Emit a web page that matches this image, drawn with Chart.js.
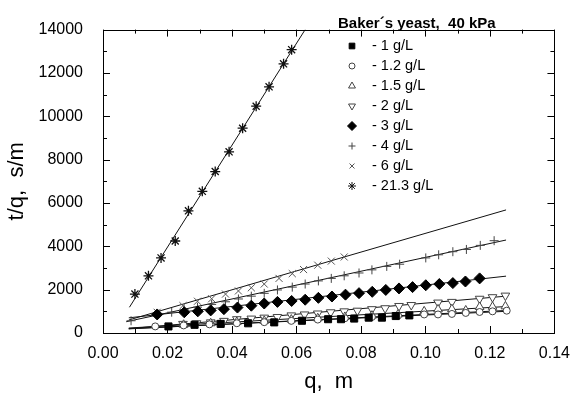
<!DOCTYPE html>
<html>
<head>
<meta charset="utf-8">
<script src="https://cdn.jsdelivr.net/npm/chart.js@4.4.0/dist/chart.umd.min.js"></script>
<style>
  html, body { margin: 0; padding: 0; background: #fff; }
</style>
</head>
<body>
<canvas id="chart" width="581" height="398"></canvas>
<script>
// Popisky a osy
const legendTitle = 'Baker\u00b4s yeast,  40 kPa';
const seriesNames = ['- 1 g/L', '- 1.2 g/L', '- 1.5 g/L', '- 2 g/L', '- 3 g/L', '- 4 g/L', '- 6 g/L', '- 21.3 g/L'];
const xTicks = [0, 0.02, 0.04, 0.06, 0.08, 0.10, 0.12, 0.14];
const yTicks = [0, 2000, 4000, 6000, 8000, 10000, 12000, 14000];

// Naměřené body (q v m, t/q v s/m)
const q1 = [0.0203, 0.0284, 0.0365, 0.045, 0.0531, 0.0617, 0.0698, 0.0738, 0.0779, 0.0824, 0.0865, 0.0908, 0.095];
const v1 = [304, 378, 420, 448, 491, 565, 637, 637, 665, 709, 709, 783, 813];

const q12 = [0.0162, 0.025, 0.033, 0.0415, 0.05, 0.0584, 0.0666, 0.075, 0.0834, 0.0915, 0.0996, 0.1039, 0.1082, 0.1125, 0.1168, 0.1208, 0.1252];
const v12 = [304, 350, 400, 450, 500, 560, 620, 680, 740, 800, 856, 856, 880, 926, 970, 1000, 1030];

const q15 = [0.025, 0.0334, 0.0415, 0.05, 0.0584, 0.0666, 0.075, 0.0834, 0.0915, 0.0996, 0.1039, 0.1082, 0.1125, 0.1168, 0.1208, 0.1248];
const v15 = [380, 450, 510, 560, 620, 680, 740, 800, 860, 1000, 1090, 1100, 1040, 1200, 1210, 1230];

const q2 = [0.0248, 0.029, 0.0334, 0.0375, 0.0415, 0.046, 0.05, 0.0541, 0.0584, 0.0625, 0.0666, 0.0706, 0.0748, 0.0789, 0.0834, 0.0875, 0.0918, 0.0956, 0.1039, 0.1082, 0.1168, 0.1208, 0.1248];
const v2 = [420, 450, 491, 560, 637, 665, 709, 739, 813, 856, 900, 956, 1000, 1030, 1100, 1143, 1247, 1290, 1404, 1435, 1580, 1652, 1725];

const q3 = [0.0168, 0.0252, 0.0294, 0.0334, 0.0375, 0.0417, 0.046, 0.05, 0.0541, 0.0585, 0.0627, 0.0668, 0.071, 0.0752, 0.0794, 0.0835, 0.0877, 0.0918, 0.096, 0.1001, 0.1043, 0.1085, 0.1124, 0.1168];
const v3 = [856, 956, 1000, 1043, 1100, 1174, 1260, 1361, 1435, 1478, 1535, 1622, 1683, 1770, 1839, 1900, 1987, 2057, 2117, 2204, 2260, 2304, 2377, 2520];

const q4 = [0.0087, 0.0168, 0.0213, 0.0252, 0.0293, 0.0337, 0.038, 0.042, 0.046, 0.05, 0.0541, 0.0587, 0.0627, 0.0668, 0.0708, 0.0748, 0.0794, 0.0834, 0.088, 0.092, 0.1001, 0.1041, 0.1085, 0.1127, 0.117, 0.1213];
const v4 = [565, 856, 960, 1070, 1190, 1320, 1440, 1570, 1700, 1830, 1987, 2117, 2260, 2404, 2520, 2639, 2770, 2913, 3074, 3174, 3465, 3609, 3752, 3855, 4043, 4260];

const q6 = [0.0168, 0.0248, 0.0293, 0.0337, 0.038, 0.042, 0.046, 0.05, 0.0546, 0.0587, 0.0622, 0.0666, 0.0708, 0.0748];
const v6 = [956, 1260, 1465, 1580, 1796, 1940, 2087, 2260, 2520, 2740, 2928, 3130, 3318, 3508];

const q213 = [0.0099, 0.0141, 0.018, 0.0224, 0.0265, 0.0308, 0.0348, 0.0391, 0.0433, 0.0475, 0.0515, 0.056, 0.0585];
const v213 = [1797, 2637, 3464, 4246, 5638, 6536, 7450, 8360, 9450, 10465, 11360, 12420, 13074];

// Proložené čáry
const fitQ1 = [0.008, 0.125], fitV1 = [200, 1000];
const fitQ12 = [0.008, 0.125], fitV12 = [190, 1040];
const fitQ15 = [0.008, 0.125], fitV15 = [230, 1220];
const fitQ2 = [0.008, 0.125], fitV2 = [200, 1700];
const fitQ3 = [0.008, 0.125], fitV3 = [700, 2623];
const fitQ4 = [0.0072, 0.125], fitV4 = [520, 4290];
const fitQ6 = [0.008, 0.0748, 0.125], fitV6 = [600, 3508, 5680];
const fitQ213 = [0.0082, 0.0627], fitV213 = [1188, 14000];

const pts = (q, v) => q.map((x, i) => ({ x, y: v[i] }));

const FONT = '"Liberation Sans", Arial, sans-serif';
const INK = '#444';

// Styly značek: [pointStyle, rotace, výplň, obrys, poloměr v grafu, poloměr v legendě, tloušťka]
const markers = [
    ['rect', 0, '#000', '#000', 5, 4, 1],
    ['circle', 0, '#fff', INK, 3.5, 3, 1],
    ['triangle', 0, '#fff', INK, 5, 4, 1],
    ['triangle', 180, '#fff', INK, 5, 4, 1],
    ['rectRot', 0, '#000', '#000', 5.5, 4.5, 1],
    ['cross', 0, '#fff', INK, 4.5, 3.5, 1],
    ['crossRot', 0, '#fff', '#555', 5, 3.5, 1],
    ['star', 0, '#fff', '#111', 5, 4, 1.3]
];

const measured = [[q1, v1], [q12, v12], [q15, v15], [q2, v2], [q3, v3], [q4, v4], [q6, v6], [q213, v213]];
const fits = [[fitQ1, fitV1], [fitQ12, fitV12], [fitQ15, fitV15], [fitQ2, fitV2], [fitQ3, fitV3], [fitQ4, fitV4], [fitQ6, fitV6], [fitQ213, fitV213]];

const datasets = [];
fits.forEach(([q, v]) => {
    datasets.push({
        data: pts(q, v), showLine: true, borderColor: '#111', borderWidth: 1,
        pointRadius: 0, fill: false, order: 2
    });
});
measured.forEach(([q, v], i) => {
    const m = markers[i];
    datasets.push({
        label: seriesNames[i], data: pts(q, v), showLine: false,
        pointStyle: m[0], rotation: m[1], backgroundColor: m[2], borderColor: m[3],
        pointBorderWidth: m[6], pointRadius: m[4], order: 1
    });
});

// Rámeček a dovnitř směřující značky os na všech stranách
const frameTicks = {
    id: 'frameTicks',
    afterDraw(chart) {
        const { ctx, chartArea: a, scales: { x, y } } = chart;
        const px = v => Math.round(x.getPixelForValue(v)) + 0.5;
        const py = v => Math.round(y.getPixelForValue(v)) + 0.5;
        const mids = t => t.slice(1).map((v, i) => (v + t[i]) / 2);
        ctx.save();
        ctx.strokeStyle = '#000';
        ctx.lineWidth = 1;
        ctx.strokeRect(Math.round(a.left) + 0.5, Math.round(a.top) + 0.5, Math.round(a.right - a.left), Math.round(a.bottom - a.top));
        ctx.beginPath();
        const tickX = (v, len) => {
            const p = px(v);
            ctx.moveTo(p, a.bottom); ctx.lineTo(p, a.bottom - len);
            ctx.moveTo(p, a.top); ctx.lineTo(p, a.top + len);
        };
        const tickY = (v, len) => {
            const p = py(v);
            ctx.moveTo(a.left, p); ctx.lineTo(a.left + len, p);
            ctx.moveTo(a.right, p); ctx.lineTo(a.right - len, p);
        };
        xTicks.forEach(v => tickX(v, 7));
        mids(xTicks).forEach(v => tickX(v, 4));
        yTicks.forEach(v => tickY(v, 7));
        mids(yTicks).forEach(v => tickY(v, 4));
        ctx.stroke();
        ctx.restore();
    }
};

// Legenda uvnitř grafu
const insideLegend = {
    id: 'insideLegend',
    afterDraw(chart) {
        const { ctx } = chart;
        ctx.save();
        ctx.fillStyle = '#000';
        ctx.textBaseline = 'middle';
        ctx.textAlign = 'left';
        ctx.font = 'bold 15px ' + FONT;
        ctx.fillText(legendTitle, 338, 24);
        ctx.font = '14.5px ' + FONT;
        seriesNames.forEach((name, i) => {
            const m = markers[i];
            const yy = 46 + i * 20;
            ctx.strokeStyle = m[3];
            ctx.fillStyle = m[2];
            ctx.lineWidth = 1;
            Chart.helpers.drawPoint(ctx, { pointStyle: m[0], rotation: m[1], radius: m[5], borderWidth: 1 }, 352, yy);
            ctx.fillStyle = '#000';
            ctx.fillText(name, 372, yy);
        });
        ctx.restore();
    }
};

new Chart(document.getElementById('chart'), {
    type: 'scatter',
    data: { datasets },
    options: {
        responsive: false,
        animation: false,
        layout: { padding: { top: 10, right: 16, left: 0, bottom: 0 } },
        plugins: { legend: { display: false }, tooltip: { enabled: false } },
        scales: {
            x: {
                type: 'linear', min: 0, max: 0.14,
                grid: { display: false, drawTicks: false },
                border: { display: false },
                afterBuildTicks: s => { s.ticks = xTicks.map(v => ({ value: v })); },
                afterFit: s => { s.height = 65; },
                ticks: {
                    padding: 11, color: '#000', autoSkip: false, maxRotation: 0,
                    font: { family: FONT, size: 16 },
                    callback: v => v.toFixed(2)
                },
                title: {
                    display: true, text: 'q,  m', color: '#000',
                    font: { family: FONT, size: 22 }, padding: { top: 0, bottom: 3 }
                }
            },
            y: {
                type: 'linear', min: 0, max: 14000,
                grid: { display: false, drawTicks: false },
                border: { display: false },
                afterBuildTicks: s => { s.ticks = yTicks.map(v => ({ value: v })); },
                afterFit: s => { s.width = 103; },
                ticks: {
                    padding: 20, color: '#000', autoSkip: false,
                    font: { family: FONT, size: 16 },
                    callback: v => String(v)
                },
                title: {
                    display: true, text: 't/q,  s/m', color: '#000',
                    font: { family: FONT, size: 22 }, padding: { top: 4, bottom: 0 }
                }
            }
        }
    },
    plugins: [frameTicks, insideLegend]
});
</script>
</body>
</html>
